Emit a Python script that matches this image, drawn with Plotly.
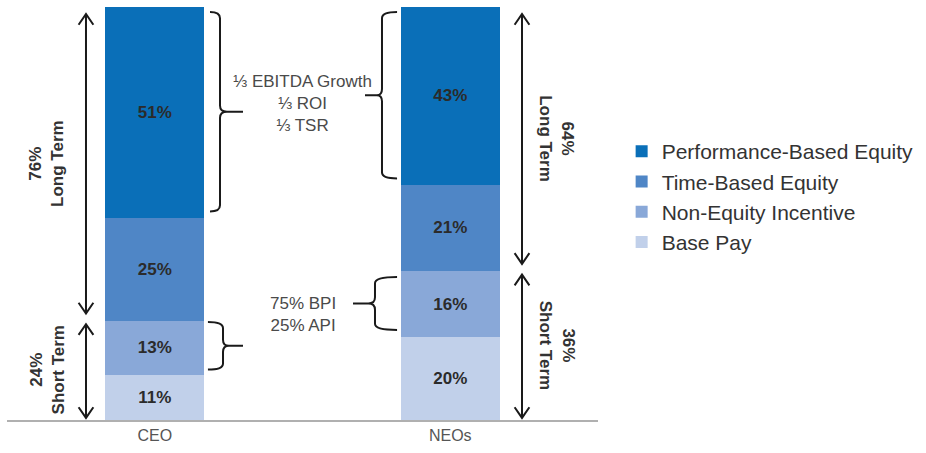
import plotly.graph_objects as go

# ---- data ----
categories = ["CEO", "NEOs"]
series_names = ["Base Pay", "Non-Equity Incentive", "Time-Based Equity", "Performance-Based Equity"]
base_pay = [11, 20]
non_equity = [13, 16]
time_equity = [25, 21]
perf_equity = [51, 43]
series_colors = ["#c1d0ea", "#89a8d8", "#4f86c6", "#0a6fb8"]
perf_split_text = "⅓ EBITDA Growth<br>⅓ ROI<br>⅓ TSR"
incentive_split_text = "75% BPI<br>25% API"

FONT = "Arial, Liberation Sans, sans-serif"
series = [base_pay, non_equity, time_equity, perf_equity]

fig = go.Figure()
for name, vals, col in zip(series_names, series, series_colors):
    fig.add_trace(go.Bar(
        x=categories, y=vals, name=name, marker=dict(color=col, line=dict(width=0)),
        texttemplate="<b>%{y}%</b>", textposition="inside", insidetextanchor="middle",
        textangle=0, constraintext="none",
        textfont=dict(family=FONT, size=17, color="#2b2b2b"),
        hoverinfo="skip",
    ))

short_term = [b + n for b, n in zip(base_pay, non_equity)]
long_term = [t + p for t, p in zip(time_equity, perf_equity)]
total = [s + l for s, l in zip(short_term, long_term)]

shapes = []
annotations = []
LINE = dict(color="#1a1a1a", width=2)

HW = 0.025   # arrowhead half-width (x units)
HH = 2.6     # arrowhead height (y units)


def arrow(x, y0, y1):
    shapes.append(dict(type="line", xref="x", yref="y", x0=x, x1=x, y0=y0, y1=y1, line=LINE))
    shapes.append(dict(type="path", xref="x", yref="y",
                       path=f"M {x-HW},{y1-HH} L {x},{y1} L {x+HW},{y1-HH}", line=LINE))
    shapes.append(dict(type="path", xref="x", yref="y",
                       path=f"M {x-HW},{y0+HH} L {x},{y0} L {x+HW},{y0+HH}", line=LINE))


def brace(x0, xv, xtip, y0, y1):
    ym = (y0 + y1) / 2
    cy = 1.5
    xs = xv + (xtip - xv) * 0.3
    p = (f"M {x0},{y1} Q {xv},{y1} {xv},{y1-cy} L {xv},{ym+cy} Q {xv},{ym} {xs},{ym} L {xtip},{ym} "
         f"M {xs},{ym} Q {xv},{ym} {xv},{ym-cy} L {xv},{y0+cy} Q {xv},{y0} {x0},{y0}")
    shapes.append(dict(type="path", xref="x", yref="y", path=p, line=LINE))
    return ym


# double arrows + rotated labels
arrow_x = [-0.2327, 1.2428]
label_x = [-0.3646, 1.361]
angles = [-90, 90]
for i in range(2):
    arrow(arrow_x[i], 0.5, short_term[i] - 0.8)
    arrow(arrow_x[i], short_term[i] + 1.8, total[i] - 1.7)
    annotations.append(dict(xref="x", yref="y", x=label_x[i], y=short_term[i] + long_term[i] / 2,
                            text=f"<b>{long_term[i]}%<br>Long Term</b>", showarrow=False,
                            textangle=angles[i], font=dict(family=FONT, size=17, color="#333333")))
    annotations.append(dict(xref="x", yref="y", x=label_x[i], y=short_term[i] / 2,
                            text=f"<b>{short_term[i]}%<br>Short Term</b>", showarrow=False,
                            textangle=angles[i], font=dict(family=FONT, size=17, color="#333333")))

# braces
lo0 = short_term[0] + time_equity[0]
m1 = brace(0.187, 0.2208, 0.2986, lo0 + 1.5, total[0] - 1.2)
lo1 = short_term[1] + time_equity[1]
m2 = brace(1 - 0.180, 1 - 0.231, 1 - 0.2885, lo1 + 1.5, total[1] - 1.2)
m3 = brace(0.180, 0.231, 0.2986, base_pay[0] + 1.2, short_term[0] - 0.3)
m4 = brace(1 - 0.180, 1 - 0.2547, 1 - 0.329, base_pay[1] + 1.8, short_term[1] - 1.4)

annotations.append(dict(xref="x", yref="y", x=0.5, y=(m1 + m2) / 2, text=perf_split_text,
                        showarrow=False, align="center",
                        font=dict(family=FONT, size=17, color="#4a4a4a")))
annotations.append(dict(xref="x", yref="y", x=0.5, y=(m3 + m4) / 2 + 2.5, text=incentive_split_text,
                        showarrow=False, align="center",
                        font=dict(family=FONT, size=17, color="#4a4a4a")))

fig.update_layout(
    width=926, height=453,
    margin=dict(l=7, r=328, t=7, b=33),
    paper_bgcolor="white", plot_bgcolor="white",
    barmode="stack", bargap=0.665,
    showlegend=True,
    legend=dict(x=1.04, y=0.54, xanchor="left", yanchor="middle", traceorder="reversed",
                font=dict(family=FONT, size=21, color="#333333"), itemwidth=30,
                bgcolor="rgba(0,0,0,0)"),
    xaxis=dict(range=[-0.5, 1.5], showline=True, linecolor="#b0b0b0", linewidth=1.5,
               showgrid=False, zeroline=False, ticks="",
               tickfont=dict(family=FONT, size=16, color="#555555")),
    yaxis=dict(range=[0, 100], visible=False, showgrid=False, zeroline=False),
    shapes=shapes, annotations=annotations,
    font=dict(family=FONT),
)

fig.write_html("out.html")
